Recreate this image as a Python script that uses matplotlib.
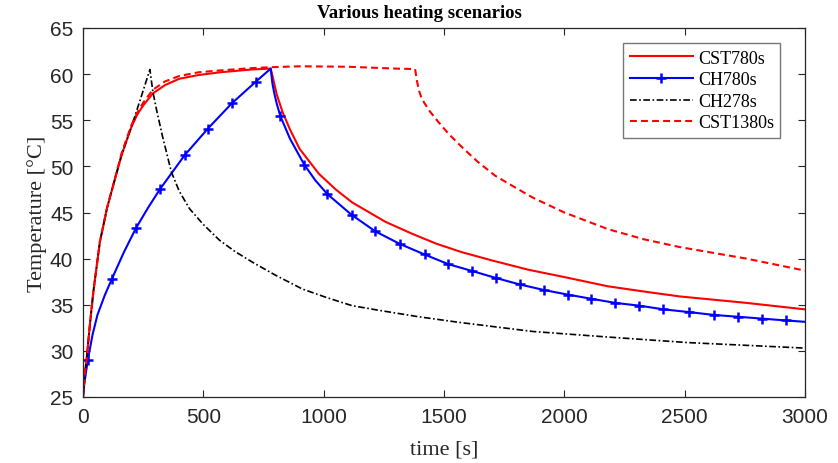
import matplotlib.pyplot as plt

# ------------------------------------------------
#  Data
# ------------------------------------------------
t_cst780 = [0, 8, 15, 30, 43, 70, 100, 125, 160, 200, 225, 250, 290, 340, 400,
            480, 570, 700, 780, 790, 805, 829, 860, 900, 980, 1050, 1118, 1256,
            1367, 1470, 1574, 1700, 1850, 2000, 2181, 2340, 2480, 2757, 3000]
T_cst780 = [25.0, 27.5, 29.1, 33.2, 36.4, 41.8, 45.5, 47.9, 51.2, 54.2, 55.6,
            56.6, 57.9, 58.8, 59.5, 59.9, 60.2, 60.5, 60.6, 59.5, 57.8, 55.9,
            54.0, 51.9, 49.2, 47.5, 46.1, 44.0, 42.7, 41.6, 40.7, 39.8, 38.8,
            38.0, 37.0, 36.4, 35.9, 35.2, 34.5]

t_ch780 = [0, 5, 20, 40, 60, 90, 120, 170, 220, 270, 319, 422, 519, 619, 719,
           780, 787, 795, 805, 820, 860, 919, 965, 1015, 1116, 1215, 1316, 1419,
           1518, 1618, 1716, 1815, 1915, 2014, 2112, 2212, 2312, 2412, 2520,
           2620, 2720, 2820, 2920, 3000]
T_ch780 = [25.0, 26.4, 29.0, 31.8, 33.9, 36.0, 37.8, 40.7, 43.3, 45.5, 47.5,
           51.2, 54.1, 56.85, 59.2, 60.6, 59.0, 57.9, 56.8, 55.45, 53.0, 50.2,
           48.5, 47.0, 44.75, 42.95, 41.6, 40.45, 39.4, 38.65, 37.9, 37.2, 36.6,
           36.1, 35.65, 35.2, 34.9, 34.5, 34.2, 33.9, 33.7, 33.5, 33.3, 33.15]
ch780_marker_times = [20, 120, 220, 319, 422, 519, 619, 719, 820, 919, 1015, 1116,
                      1215, 1316, 1419, 1518, 1618, 1716, 1815, 1915, 2014, 2112,
                      2212, 2312, 2412, 2520, 2620, 2720, 2820, 2920]

t_ch278 = [0, 8, 15, 30, 43, 70, 100, 125, 160, 200, 240, 278, 284, 291, 305,
           330, 367, 400, 443, 500, 567, 630, 705, 800, 912, 1010, 1118, 1229,
           1394, 1560, 1870, 2181, 2512, 3000]
T_ch278 = [25.0, 27.5, 29.1, 33.2, 36.4, 41.8, 45.5, 47.9, 51.2, 54.2, 57.4,
           60.5, 59.3, 58.0, 56.2, 53.3, 49.4, 47.3, 45.4, 43.7, 42.0, 40.8,
           39.6, 38.2, 36.7, 35.8, 34.9, 34.4, 33.7, 33.1, 32.1, 31.5, 30.9, 30.3]

t_cst1380 = [0, 8, 15, 30, 43, 70, 100, 125, 160, 200, 225, 250, 290, 340, 400,
             480, 570, 700, 780, 900, 1100, 1300, 1380, 1386, 1395, 1408, 1440,
             1477, 1520, 1574, 1640, 1712, 1790, 1870, 2000, 2181, 2330, 2480,
             2757, 3000]
T_cst1380 = [25.0, 27.5, 29.1, 33.2, 36.4, 41.8, 45.5, 47.9, 51.4, 54.4, 55.8,
             56.9, 58.3, 59.2, 59.8, 60.2, 60.4, 60.65, 60.75, 60.85, 60.8, 60.6,
             60.55, 59.5, 58.3, 57.3, 56.0, 54.8, 53.5, 52.1, 50.5, 49.0, 47.8,
             46.6, 45.0, 43.2, 42.1, 41.25, 40.0, 38.7]

# ------------------------------------------------
#  Plot
# ------------------------------------------------
serif = ["Liberation Serif", "DejaVu Serif"]
sans = ["Liberation Sans", "DejaVu Sans"]
dark = "#262626"

fig = plt.figure(figsize=(8.38, 4.64), dpi=100)
ax = fig.add_axes([83 / 838, 1 - 398 / 464, 722 / 838, 369 / 464])

ax.plot(t_cst780, T_cst780, color="red", lw=1.5, label="CST780s")
marker_idx = [t_ch780.index(m) for m in ch780_marker_times]
ax.plot(t_ch780, T_ch780, color="blue", lw=1.5, marker="+", markersize=7.5,
        markeredgewidth=1.8, markevery=marker_idx, label="CH780s")
ax.plot(t_ch278, T_ch278, color="black", lw=1.2,
        linestyle=(0, (4, 1.5, 1, 1.5)), label="CH278s")
ax.plot(t_cst1380, T_cst1380, color="red", lw=1.5,
        linestyle=(0, (3.3, 2)), label="CST1380s")

ax.set_xlim(0, 3000)
ax.set_ylim(25, 65)
ax.set_xticks(range(0, 3001, 500))
ax.set_yticks(range(25, 66, 5))

for sp in ax.spines.values():
    sp.set_color(dark)
    sp.set_linewidth(0.9)
ax.tick_params(direction="in", length=5, width=0.8, color=dark,
               top=True, right=True, labelsize=15, labelcolor=dark)
ax.tick_params(axis="x", pad=7)
ax.tick_params(axis="y", pad=7)
for lab in ax.get_xticklabels() + ax.get_yticklabels():
    lab.set_family(sans)

ax.set_xlabel("time [s]", family=serif, fontsize=16, color=dark, labelpad=10)
ax.set_ylabel("Temperature [\u00b0C]", family=serif, fontsize=16, color=dark,
              labelpad=2)
fig.text(419 / 838, 1 - 14 / 464, "Various heating scenarios", family=serif,
         fontsize=13.5, fontweight="bold", ha="center", va="center")

leg = ax.legend(loc="upper right", bbox_to_anchor=(0.966, 0.958),
                prop={"family": serif, "size": 13}, fancybox=False,
                framealpha=1, edgecolor="#777777", borderpad=0.35,
                labelspacing=0.25, handlelength=3.5, handletextpad=0.3,
                borderaxespad=0)
leg.get_frame().set_linewidth(1.0)

fig.savefig("out.png", dpi=100)
